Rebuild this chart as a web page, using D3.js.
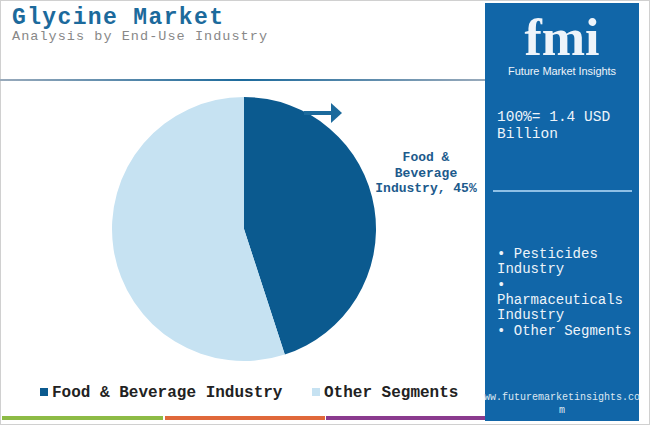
<!DOCTYPE html><html><head><script src="https://cdn.jsdelivr.net/npm/d3@7"></script>
<style>body{margin:0}svg{display:block}.m{font-family:"Liberation Mono","Courier New","DejaVu Sans Mono",monospace}</style></head><body><script>
const categories=["Food & Beverage Industry","Other Segments"];
const values=[45,55];
const colors=["#0b5a8f","#c6e2f2"];
const panelItems=["• Pesticides","Industry","•","Pharmaceuticals","Industry","• Other Segments"];
const W=650,H=425;
const svg=d3.select("body").append("svg").attr("width",W).attr("height",H);
svg.append("rect").attr("x",0.5).attr("y",0.5).attr("width",W-1).attr("height",H-1).attr("fill","#fff").attr("stroke","#d0d0d0");
svg.append("text").attr("class","m").attr("x",12).attr("y",24).attr("font-weight","bold").attr("font-size",23).attr("fill","#1c6a9c").attr("textLength",211).text("Glycine Market");
svg.append("text").attr("class","m").attr("x",12).attr("y",40).attr("font-size",13.5).attr("fill","#888").attr("textLength",255).text("Analysis by End-Use Industry");
const g0=svg.append("defs").append("linearGradient").attr("id","lg");
g0.append("stop").attr("offset","0").attr("stop-color","#9ab");
g0.append("stop").attr("offset","0.5").attr("stop-color","#1c6a9c");
g0.append("stop").attr("offset","1").attr("stop-color","#9ab");
svg.append("rect").attr("x",0).attr("y",79).attr("width",485).attr("height",2).attr("fill","url(#lg)");
const pie=d3.pie().sort(null).value(d=>d);
const arc=d3.arc().innerRadius(0).outerRadius(132);
const pg=svg.append("g").attr("transform","translate(244,229)");
pg.selectAll("path").data(pie(values)).join("path").attr("d",arc).attr("fill",(d,i)=>colors[i]);
svg.append("line").attr("x1",304).attr("y1",113).attr("x2",334).attr("y2",113).attr("stroke","#1c6a9c").attr("stroke-width",4);
svg.append("path").attr("d","M331,103 L342,113 L331,123 Z").attr("fill","#1c6a9c");
const lab=svg.append("text").attr("class","m").attr("font-weight","bold").attr("font-size",13).attr("fill","#1c5a8c").attr("text-anchor","middle");
["Food &","Beverage","Industry, "+values[0]+"%"].forEach((t,i)=>lab.append("tspan").attr("x",426).attr("y",161+i*15.5).text(t));
const lg=svg.append("g");
let lx=[40,312];
categories.forEach((c,i)=>{
 lg.append("rect").attr("x",lx[i]).attr("y",388).attr("width",8).attr("height",8).attr("fill",colors[i]);
 lg.append("text").attr("class","m").attr("x",lx[i]+12).attr("y",397).attr("font-weight","bold").attr("font-size",16).attr("fill","#222").text(c);
});
[["#8dbb45",2,163],["#e0683a",165,325],["#8a3a8e",326,488]].forEach(b=>svg.append("rect").attr("x",b[1]).attr("y",416).attr("width",b[2]-b[1]).attr("height",4).attr("fill",b[0]));
svg.append("rect").attr("x",485).attr("y",3).attr("width",154).attr("height",418).attr("fill","#1166a8");
svg.append("text").attr("x",562).attr("y",55).attr("text-anchor","middle").attr("font-family","'Liberation Serif',serif").attr("font-weight","bold").attr("font-size",52).attr("fill","#eef4fa").text("fmi");
svg.append("text").attr("x",562).attr("y",75).attr("text-anchor","middle").attr("font-family","'Liberation Sans Narrow','Liberation Sans',sans-serif").attr("font-size",11).attr("fill","#eef4fa").attr("textLength",108).text("Future Market Insights");
const pt=svg.append("text").attr("class","m").attr("font-size",14.5).attr("fill","#eef4fa");
["100%= 1.4 USD","Billion"].forEach((t,i)=>pt.append("tspan").attr("x",497).attr("y",121+i*17).text(t));
svg.append("rect").attr("x",493).attr("y",190).attr("width",139).attr("height",2).attr("fill","#8fc0e6");
const pi=svg.append("text").attr("class","m").attr("font-size",14).attr("fill","#eef4fa");
panelItems.forEach((t,i)=>pi.append("tspan").attr("x",497).attr("y",258+i*15.3).text(t));
const w=svg.append("text").attr("class","m").attr("font-size",10).attr("fill","#dde8f2").attr("text-anchor","middle");
["ww.futuremarketinsights.co","m"].forEach((t,i)=>w.append("tspan").attr("x",562).attr("y",400+i*13).text(t));
</script></body></html>
